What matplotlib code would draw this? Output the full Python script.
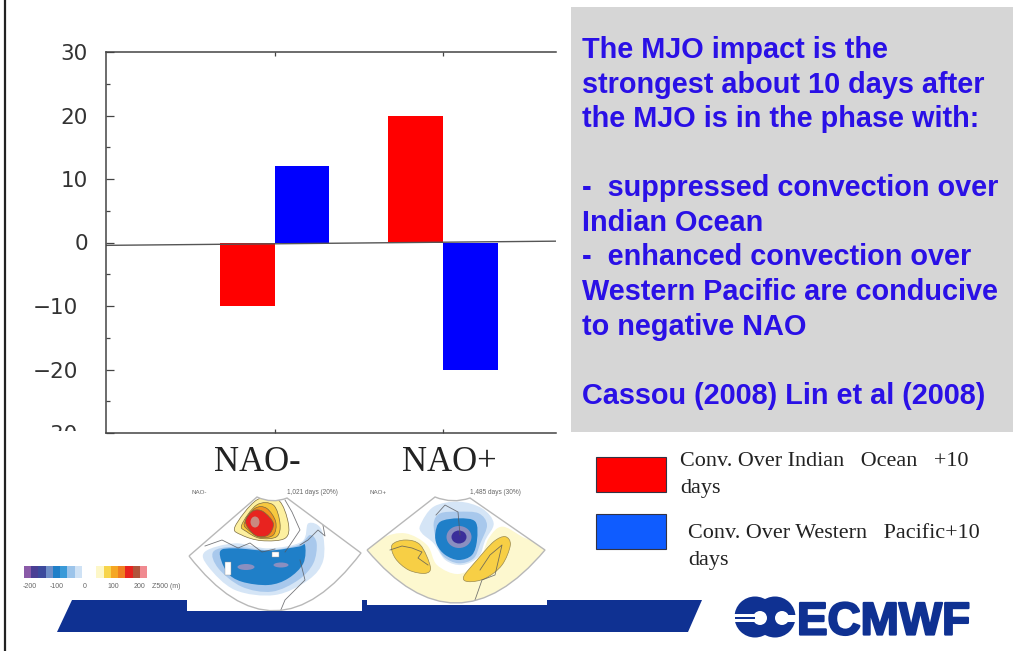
import matplotlib
matplotlib.use('Agg')
import matplotlib.pyplot as plt
import numpy as np
from matplotlib.patches import Circle, Ellipse, Polygon, PathPatch, Rectangle
from matplotlib.path import Path
from matplotlib.patheffects import withStroke
from matplotlib.transforms import Bbox, ScaledTranslation

# chart values
categories = ['NAO-', 'NAO+']
indian_ocean = [-10, 20]
western_pacific = [12, -20]
y_ticks = [30, 20, 10, 0, -10, -20, -30]
y_minor = [25, 15, 5, -5, -15, -25]

panel_lines = [
    ('The MJO impact is the', 48), ('strongest about 10 days after', 83),
    ('the MJO is in the phase with:', 117), ('-  suppressed convection over', 186),
    ('Indian Ocean', 221), ('-  enhanced convection over', 255),
    ('Western Pacific are conducive', 290), ('to negative NAO', 325),
    ('Cassou (2008) Lin et al (2008)', 394),
]
legend_rows = [
    ('Conv. Over Indian   Ocean   +10', 'days', 680, 462, 488, '#ff0000', 457),
    ('Conv. Over Western   Pacific+10', 'days', 688, 534, 561, '#0f5cff', 514),
]
cbar_colors = ['#8a5aa8', '#4a3f94', '#3c4a9c', '#6f8fc8', '#1f7fc8', '#3a9ad8', '#9cc4ea', '#cfe2f5',
               '#ffffff', '#ffffff', '#fdf7c8', '#f7d44a', '#f5a623', '#f07f20', '#e8231f', '#b0553c', '#f08a90']
cbar_labels = [('-200', 30), ('-100', 57), ('0', 85), ('100', 113), ('200', 139), ('Z500 (m)', 166)]

neg_light = [(60, 215), (150, 190), (250, 205), (350, 185), (370, 130), (410, 150), (415, 240), (370, 300), (270, 345), (150, 330), (70, 260)]
neg_mid = [(85, 215), (150, 200), (250, 210), (340, 195), (375, 165), (395, 190), (385, 250), (340, 300), (260, 335), (170, 320), (100, 265)]
neg_dark = [(105, 215), (150, 205), (250, 212), (340, 200), (360, 195), (355, 250), (310, 295), (250, 315), (170, 305), (125, 275)]
neg_high = [
    ((150, 140), (215, 60), (280, 60), (310, 130), (300, 175), (230, 182), (170, 165), '#fdf0a0'),
    ((170, 135), (215, 75), (265, 75), (285, 130), (275, 170), (225, 175), (185, 155), '#f7c93f'),
    ((178, 130), (210, 85), (245, 85), (272, 125), (265, 165), (225, 172), (190, 150), '#f29420'),
    ((182, 120), (205, 92), (235, 95), (265, 130), (250, 165), (215, 168), (190, 145), '#e8231f'),
]
pos_pale = [(0, 230), (60, 175), (130, 160), (195, 195), (225, 255), (290, 282), (350, 245), (380, 175), (420, 140), (480, 170), (560, 220), (560, 400), (0, 400)]
pos_light = [(175, 135), (215, 80), (290, 65), (360, 85), (395, 130), (370, 180), (350, 230), (300, 255), (250, 240), (215, 190), (180, 160)]
pos_mid = [(215, 130), (235, 100), (290, 95), (350, 100), (375, 135), (355, 190), (335, 235), (290, 250), (245, 230), (225, 190)]
pos_dark = [(220, 160), (235, 125), (290, 115), (340, 125), (345, 180), (330, 225), (290, 240), (250, 225), (225, 195)]
pos_blob_left = [(90, 195), (130, 180), (175, 195), (205, 260), (190, 280), (140, 270), (100, 235)]
pos_blob_right = [(305, 290), (345, 240), (395, 185), (430, 170), (445, 195), (420, 255), (370, 295), (320, 305)]

NAVY = '#0f3192'
W, H = 1033, 651

fig = plt.figure(figsize=(W / 100, H / 100), dpi=100, facecolor='white')

# overlay in picture pixels for everything around the chart
bg = fig.add_axes([0, 0, 1, 1], zorder=0)
bg.set_xlim(0, W)
bg.set_ylim(H, 0)
bg.axis('off')

bg.plot([5, 5], [0, H], color='#222222', lw=1.6)

# grey text panel
bg.add_patch(Rectangle((570.5, 7), 442, 425, fc='#d6d6d6', ec='none'))
for line, y in panel_lines:
    bg.text(582, y + 2, line, family='Liberation Sans', weight='bold', fontsize=20.8,
            color='#2a10e6', va='center', ha='left')

# legend
for line1, line2, x, y1, y2, col, top in legend_rows:
    bg.add_patch(Rectangle((596, top), 70, 34.5, fc=col, ec='#333344', lw=0.8))
    bg.text(x, y1, line1, family='Liberation Serif', fontsize=15.9, color='#222222', va='center')
    bg.text(x, y2, line2, family='Liberation Serif', fontsize=15.9, color='#222222', va='center')


# fan shaped map frame
def fan_path(left, right, tl, tr, ctrl):
    verts = [left, ctrl, right, tr, ((tl[0] + tr[0]) / 2, tr[1] + 6), tl, left]
    codes = [Path.MOVETO, Path.CURVE3, Path.CURVE3, Path.LINETO, Path.CURVE3, Path.CURVE3, Path.LINETO]
    return Path(verts, codes)


def shade(pts, ox, oy, color, clip, edge='none'):
    # closed Catmull-Rom outline going through the crop points
    p = np.array([(a / 3 + ox, b / 3 + oy) for a, b in pts])
    n = len(p)
    verts = [p[0]]
    codes = [Path.MOVETO]
    for i in range(n):
        c1 = p[i] + (p[(i + 1) % n] - p[i - 1]) / 6
        c2 = p[(i + 1) % n] - (p[(i + 2) % n] - p[i]) / 6
        verts += [c1, c2, p[(i + 1) % n]]
        codes += [Path.CURVE4, Path.CURVE4, Path.CURVE4]
    patch = PathPatch(Path(verts, codes), fc=color, ec=edge, lw=0.5)
    bg.add_patch(patch)
    patch.set_clip_path(clip)


def blob(x, y, w, h, color, clip):
    patch = Ellipse((x, y), w, h, fc=color, ec='none')
    bg.add_patch(patch)
    patch.set_clip_path(clip)


def coast(xs, ys, clip):
    line, = bg.plot(xs, ys, color='#55565a', lw=0.6, alpha=0.8)
    line.set_clip_path(clip)


# NAO- map
fan1 = PathPatch(fan_path((189, 556), (361, 553), (257, 497), (287, 498), (275, 667)), fc='white', ec='none', zorder=1)
bg.add_patch(fan1)
shade(neg_light, 185, 480, '#d5e5f6', fan1)
shade(neg_mid, 185, 480, '#a8c8ec', fan1)
shade(neg_dark, 185, 480, '#1f7fc8', fan1)
blob(246, 567, 17, 6, '#8a8fc0', fan1)
blob(281, 565, 15, 5, '#8a8fc0', fan1)
for *pts, col in neg_high:
    shade(pts, 185, 480, col, fan1, edge='#7a6a40')
blob(255, 522, 9, 11, '#c98a80', fan1)
bg.add_patch(Rectangle((225, 562), 6, 13, fc='white', ec='#999999', lw=0.3, zorder=3))
bg.add_patch(Rectangle((272, 552), 7, 5, fc='white', ec='#999999', lw=0.3, zorder=3))
coast([205, 222, 238, 250, 262, 275], [546, 540, 548, 543, 552, 549], fan1)
coast([300, 308, 318, 325, 322, 335], [545, 540, 530, 536, 520, 515], fan1)
coast([285, 292, 300, 290, 285], [500, 512, 530, 545, 552], fan1)
coast([300, 305, 295, 285, 280], [560, 580, 590, 600, 612], fan1)
bg.add_patch(PathPatch(fan_path((189, 556), (361, 553), (257, 497), (287, 498), (275, 667)),
                       fc='none', ec='#b8b8b8', lw=1.0, zorder=4))
bg.text(191, 492, 'NAO-', fontsize=4.5, color='#666666', family='Liberation Sans', va='center')
bg.text(287, 492, '1,021 days (20%)', fontsize=4.7, color='#666666', family='Liberation Sans', va='center')

# NAO+ map
fan2 = PathPatch(fan_path((367, 550), (545, 550), (435, 497), (470, 498), (456, 656)), fc='white', ec='none', zorder=1)
bg.add_patch(fan2)
shade(pos_pale, 362, 480, '#fdf8cf', fan2)
shade(pos_blob_left, 362, 480, '#f7cf45', fan2, edge='#9a8a50')
shade(pos_blob_right, 362, 480, '#f7cf45', fan2, edge='#9a8a50')
shade(pos_light, 362, 480, '#d5e5f6', fan2)
shade(pos_mid, 362, 480, '#a8c8ec', fan2)
shade(pos_dark, 362, 480, '#1f7fc8', fan2)
blob(459, 537, 25, 22, '#8a8fc0', fan2)
blob(459, 537, 15, 13, '#3a2f9a', fan2)
coast([390, 402, 412, 422, 418, 428], [550, 546, 548, 552, 558, 565], fan2)
coast([480, 490, 502, 495, 482, 475], [570, 555, 545, 575, 580, 600], fan2)
coast([436, 445, 458, 460], [515, 505, 512, 535], fan2)
bg.add_patch(PathPatch(fan_path((367, 550), (545, 550), (435, 497), (470, 498), (456, 656)),
                       fc='none', ec='#b8b8b8', lw=1.0, zorder=4))
bg.text(370, 493, 'NAO+', fontsize=4.5, color='#666666', family='Liberation Sans', va='center')
bg.text(470, 493, '1,485 days (30%)', fontsize=4.7, color='#666666', family='Liberation Sans', va='center')

# colour bar under the maps
cell = (147 - 24) / len(cbar_colors)
for i, col in enumerate(cbar_colors):
    bg.add_patch(Rectangle((24 + i * cell, 566), cell, 11.5, fc=col, ec='none'))
for lab, x in cbar_labels:
    bg.text(x, 586, lab, fontsize=5, color='#666666', family='Liberation Sans', ha='center', va='center')

# navy band at the bottom
bg.add_patch(Polygon([(57, 632), (72, 600), (187, 600), (187, 611), (362, 611), (362, 600), (367, 600), (367, 605),
                      (547, 605), (547, 600), (702, 600), (688, 632)], fc=NAVY, ec='none', zorder=5))

# logo
for cx in (755, 775):
    bg.add_patch(Circle((cx, 617), 20.5, fc=NAVY, ec='none', zorder=5))
for cx in (760, 782):
    bg.add_patch(Circle((cx, 618), 7, fc='white', ec='none', zorder=6))
bg.add_patch(Rectangle((734, 614), 24, 7.5, fc='white', ec='none', zorder=6))
bg.add_patch(Rectangle((735, 616.8), 20, 2, fc=NAVY, ec='none', zorder=7))
bg.add_patch(Rectangle((782, 614.5), 15, 7, fc='white', ec='none', zorder=6))
bg.text(797, 617.5, 'ECMWF', family='Liberation Sans', weight='bold', fontsize=33, color=NAVY, ha='left',
        va='center_baseline', path_effects=[withStroke(linewidth=1.6, foreground=NAVY)])

# the bar chart itself
ax = fig.add_axes([106 / W, 1 - 433 / H, 450 / W, (433 - 52) / H], zorder=2)
ax.patch.set_alpha(0)
x = np.arange(len(categories))
bar_width = 0.326
ax.bar(x - bar_width / 2, indian_ocean, bar_width, color='#ff0000')
ax.bar(x + bar_width / 2, western_pacific, bar_width, color='#0000ff')
ax.set_xlim(-1.0, 1.67)
ax.set_ylim(-30, 30)

# zero line is not quite level in the slide
ax.plot([0, 1], [0.4925, 0.5035], transform=ax.transAxes, color='#555555', lw=1)

ax.spines['right'].set_visible(False)
for s in ['left', 'top', 'bottom']:
    ax.spines[s].set_color('#444444')
    ax.spines[s].set_linewidth(1.1)

ax.set_yticks(y_ticks)
ax.set_yticks(y_minor, minor=True)
ax.set_yticklabels([str(v).replace('-', '\u2212') for v in y_ticks], family='DejaVu Sans', fontsize=15.5, color='#333333')
ax.tick_params(axis='y', which='major', direction='in', length=5.5, width=0.9, color='#444444', pad=13)
ax.tick_params(axis='y', which='minor', direction='in', length=2.7, width=0.9, color='#444444')
ax.set_xticks(x)
ax.set_xticklabels(categories, family='Liberation Serif', fontsize=25, color='#222222')
ax.tick_params(axis='x', direction='in', length=2.7, width=0.9, color='#444444', top=True, pad=9.5)

# negative labels sit a little further left, and the lowest one is cut by the axis
shift = ScaledTranslation(-7 / 72, 0, fig.dpi_scale_trans)
for label, v in zip(ax.get_yticklabels(), y_ticks):
    if v < 0:
        label.set_transform(label.get_transform() + shift)
    if v == -30:
        label.set_clip_box(Bbox([[0, H - 431], [104, H]]))
        label.set_clip_on(True)

# the category labels are not centred on their ticks
for label, dx in zip(ax.get_xticklabels(), [-17, 6]):
    label.set_transform(label.get_transform() + ScaledTranslation(dx * 0.72 / 72, 0, fig.dpi_scale_trans))

plt.savefig('out.png', dpi=100)
plt.close(fig)
